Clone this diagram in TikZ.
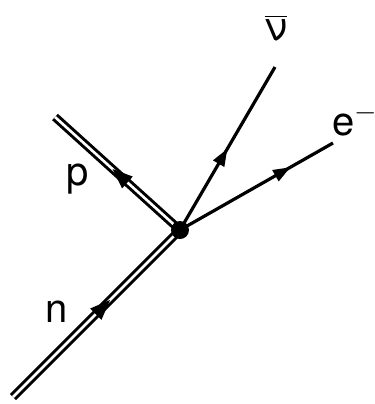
\documentclass[tikz,border=0pt]{standalone}
\usepackage{fontspec}
\setmainfont{TeX Gyre Heros}
\usetikzlibrary{arrows.meta,decorations.markings}
\tikzset{
  bigmark/.style={postaction={decorate}, decoration={markings,
    mark=at position #1 with {\fill (5pt,0) -- (-5pt,4pt) -- (-5pt,-4pt) -- cycle;}}},
  smallmark/.style={postaction={decorate}, decoration={markings,
    mark=at position #1 with {\fill (4.5pt,0) -- (-4pt,3.3pt) -- (-4pt,-3.3pt) -- cycle;}}},
  nucleon/.style={double, double distance=1.3pt, line width=1.5pt, bigmark=#1},
  lepton/.style={line width=1.6pt, smallmark=#1},
  lbl/.style={inner sep=0pt, font=\fontsize{20}{24}\selectfont}
}
\begin{document}
\begin{tikzpicture}[x=0.5pt,y=-0.5pt]
\useasboundingbox (0,0) rectangle (375,404);
\coordinate (v) at (180,230);
\coordinate (nin) at (13,397);
\coordinate (pout) at (55,117);
\coordinate (nuout) at (275,67);
\coordinate (eout) at (333,143);
\draw[nucleon=0.54] (nin) -- (v);
\draw[nucleon=0.48] (v) -- (pout);
\draw[lepton=0.45] (v) -- (nuout);
\draw[lepton=0.67] (v) -- (eout);
\fill (v) circle (4.5pt);
\node[lbl] (nlab) at (57,312) {n};
\node[lbl] (plab) at (78,179) {p};
\node[lbl] (nulab) at (276,28) {$\overline{\hbox{ν}}$};
\node[lbl] (elab) at (355,120) {e$^{-}$};
\end{tikzpicture}
\end{document}
